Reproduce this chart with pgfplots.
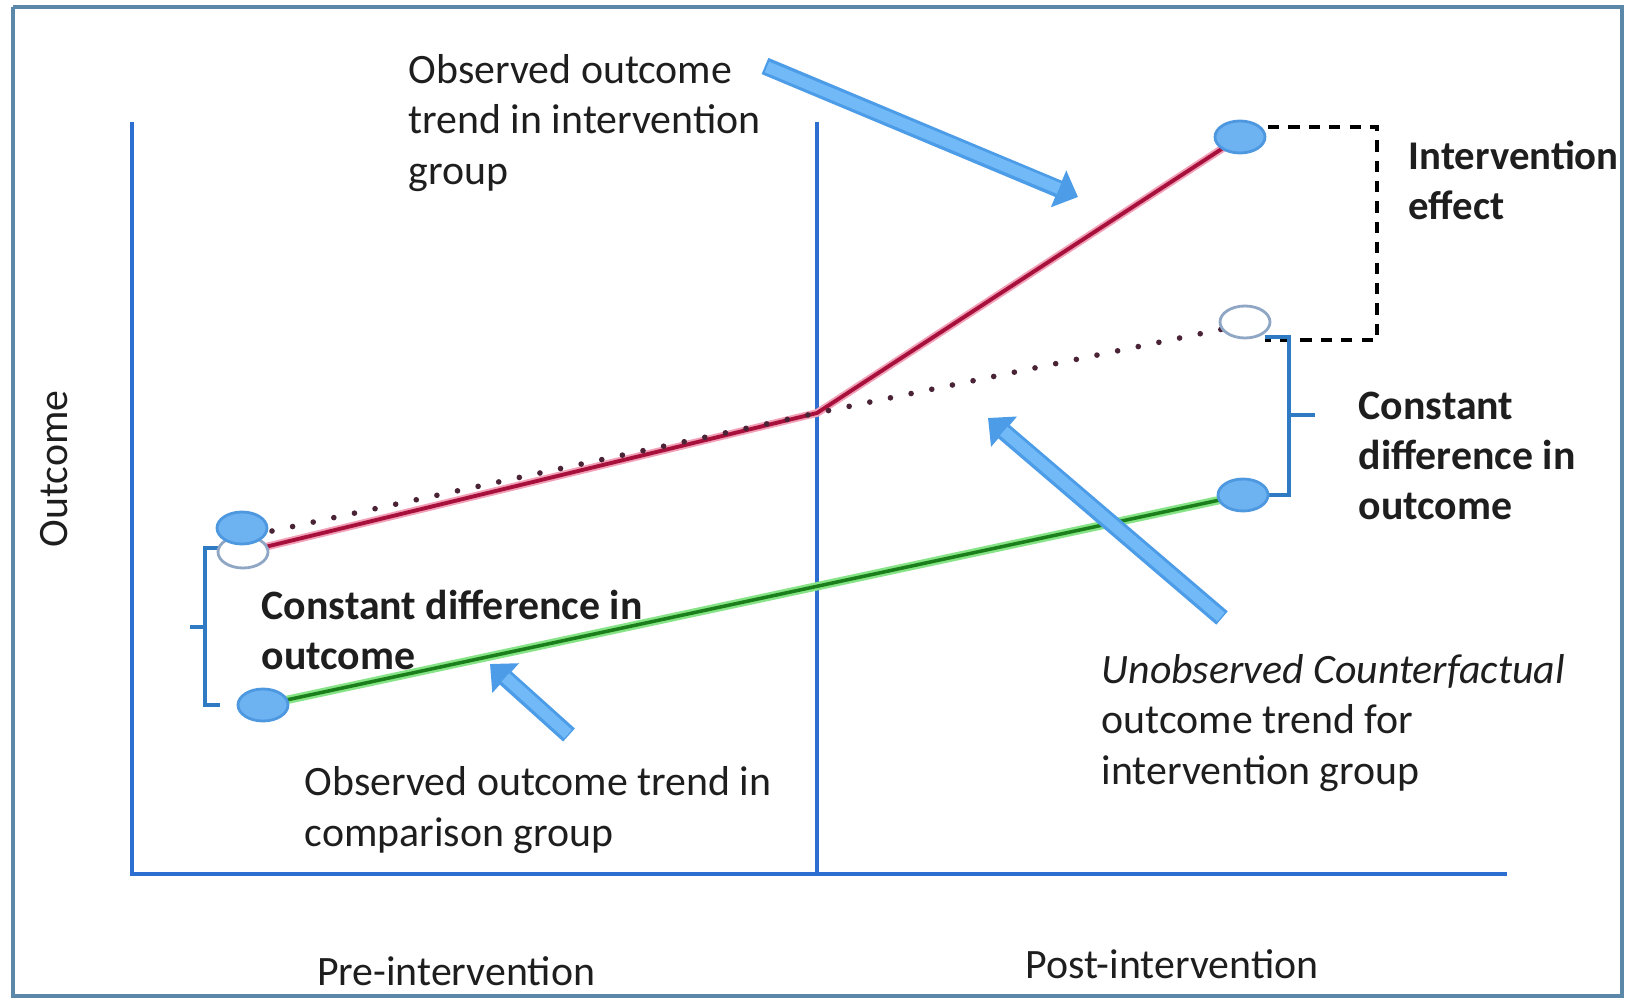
\documentclass[border=0pt]{standalone}
\usepackage{pgfplots}
\pgfplotsset{compat=1.18}
\usepackage{fontspec}
\setmainfont{Carlito}
\usetikzlibrary{arrows.meta}
\definecolor{axblue}{HTML}{2C6FD1}
\definecolor{frameblue}{HTML}{5B87A8}
\definecolor{redl}{HTML}{A8103C}
\definecolor{redglow}{HTML}{F2A0B8}
\definecolor{greenl}{HTML}{1A7F1A}
\definecolor{greenglow}{HTML}{86E486}
\definecolor{ellfill}{HTML}{6DB3F2}
\definecolor{elldraw}{HTML}{4E98E0}
\definecolor{openell}{HTML}{8FA6C4}
\definecolor{arrowc}{HTML}{72BAF7}
\definecolor{arrowd}{HTML}{4C9CE8}
\definecolor{brblue}{HTML}{2E7BC4}
\definecolor{txt}{HTML}{1E1E1E}
\definecolor{dotc}{HTML}{4A2436}
\newcommand{\tf}{\fontsize{11.9}{14.3}\selectfont}
\pgfdeclareplotmark{ell}{%
  \pgfpathellipse{\pgfpointorigin}{\pgfqpoint{2.5mm}{0pt}}{\pgfqpoint{0pt}{1.6mm}}%
  \pgfusepathqfillstroke}
\tikzset{lab/.style={anchor=west, align=left, inner sep=0pt, text=txt, font=\tf}}
\begin{document}
\begin{tikzpicture}
\useasboundingbox (0,0) rectangle (16.26cm,9.99cm);
\begin{axis}[
  at={(0,0)}, anchor=south west,
  scale only axis, width=16.26cm, height=9.99cm,
  xmin=0, xmax=1626, ymin=0, ymax=999, y dir=reverse,
  axis lines=none, clip=false,
]
% outer frame
\addplot[draw=frameblue, line width=1.2pt] coordinates {(13,7) (1622,7) (1622,996) (13,996) (13,7)};
% axes and divider
\addplot[draw=axblue, line width=1.2pt] coordinates {(132,122) (132,874) (1507,874)};
\addplot[draw=axblue, line width=1.1pt] coordinates {(817,122) (817,874)};
% green comparison trend
\addplot[draw=greenglow, line width=2.4pt] coordinates {(263,705) (1243,495)};
\addplot[draw=greenl, line width=1pt] coordinates {(263,705) (1243,495)};
% red intervention trend
\addplot[draw=redglow, line width=2.2pt] coordinates {(265,547) (817,413) (1240,137)};
\addplot[draw=redl, line width=1.1pt] coordinates {(265,547) (817,413) (1240,137)};
% counterfactual dotted
\addplot[draw=dotc, line width=1.6pt, line cap=round, dash pattern=on 0pt off 6pt] coordinates {(272,531) (817,413) (1228,328)};
% dashed intervention effect box
\addplot[draw=black, line width=1.1pt, dash pattern=on 3.2pt off 2.6pt] coordinates {(1268,127) (1377,127) (1377,340) (1265,340)};
% brackets
\addplot[draw=brblue, line width=0.9pt] coordinates {(222,548) (205,548) (205,705) (220,705)};
\addplot[draw=brblue, line width=0.9pt] coordinates {(205,627) (190,627)};
\addplot[draw=brblue, line width=0.9pt] coordinates {(1265,337) (1289,337) (1289,495) (1266,495)};
\addplot[draw=brblue, line width=0.9pt] coordinates {(1289,415) (1315,415)};
% ellipses
\addplot[only marks, mark=ell, mark options={fill=white, draw=openell, line width=0.8pt}] coordinates {(243,552) (1245,322)};
\addplot[only marks, mark=ell, mark options={fill=ellfill, draw=elldraw, line width=0.8pt}] coordinates {(242,528) (263,705) (1243,495) (1240,137)};
% pointer arrows
\addplot[draw=arrowd, line width=5pt, -{Triangle[width=11pt,length=6pt]}] coordinates {(765,66) (1078,197)};
\addplot[draw=arrowc, line width=3.2pt, shorten >=4pt] coordinates {(767,67) (1072,194)};
\addplot[draw=arrowd, line width=5pt, -{Triangle[width=11pt,length=6pt]}] coordinates {(1222,618) (988,418)};
\addplot[draw=arrowc, line width=3.2pt, shorten >=4pt] coordinates {(1221,617) (993,422)};
\addplot[draw=arrowd, line width=5pt, -{Triangle[width=11pt,length=6pt]}] coordinates {(569,735) (490,664)};
\addplot[draw=arrowc, line width=3.2pt, shorten >=4pt] coordinates {(568,734) (495,668)};
% texts
\node[lab] at (axis cs:408,123) {Observed outcome\\trend in intervention\\group};
\node[lab, font=\bfseries\fontsize{11.6}{14.3}\selectfont] at (axis cs:1408,180) {Intervention\\effect};
\node[lab, font=\bfseries\tf] at (axis cs:1358,456) {Constant\\difference in\\outcome};
\node[lab, font=\bfseries\tf] at (axis cs:261,630) {Constant difference in\\outcome};
\node[lab] at (axis cs:1101,723) {\textit{Unobserved Counterfactual}\\outcome trend for\\intervention group};
\node[lab] at (axis cs:304,810) {Observed outcome trend in\\comparison group};
\node[rotate=90, font=\tf, text=txt] at (axis cs:54,469) {Outcome};
\node[font=\tf, text=txt] at (axis cs:456,971) {Pre-intervention};
\node[font=\tf, text=txt] at (axis cs:1172,964) {Post-intervention};
\end{axis}
\end{tikzpicture}
\end{document}
